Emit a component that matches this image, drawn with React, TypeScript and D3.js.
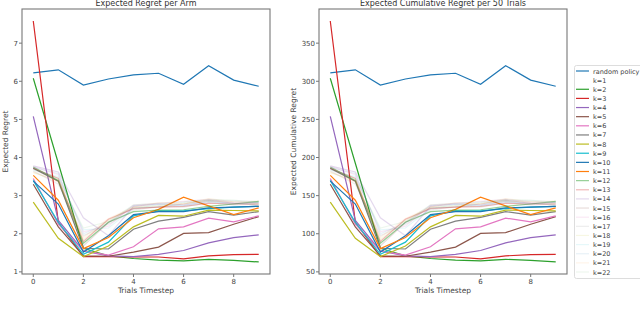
import React, { useEffect, useRef } from 'react';
import * as d3 from 'd3';

// trial timesteps on the x axis
const steps = [0, 1, 2, 3, 4, 5, 6, 7, 8, 9];

// expected regret per arm
const randomPolicy = [6.22, 6.30, 5.90, 6.06, 6.17, 6.21, 5.92, 6.41, 6.03, 5.87];
const k1: number[] = [];
const k2 = [6.08, 3.85, 1.62, 1.42, 1.35, 1.31, 1.29, 1.33, 1.30, 1.26];
const k3 = [7.58, 2.30, 1.40, 1.40, 1.39, 1.39, 1.34, 1.42, 1.45, 1.46];
const k4 = [5.08, 2.35, 1.55, 1.42, 1.40, 1.46, 1.56, 1.76, 1.90, 1.97];
const k5 = [3.30, 2.18, 1.42, 1.41, 1.52, 1.65, 2.01, 2.03, 2.25, 2.45];
const k6 = [3.45, 2.25, 1.55, 1.44, 1.66, 2.13, 2.18, 2.41, 2.31, 2.47];
const k7 = [3.72, 3.38, 1.62, 1.60, 2.12, 2.33, 2.43, 2.58, 2.49, 2.58];
const k8 = [2.83, 1.88, 1.40, 1.68, 2.18, 2.48, 2.46, 2.62, 2.61, 2.60];
const k9 = [3.40, 2.30, 1.46, 1.78, 2.47, 2.60, 2.60, 2.66, 2.70, 2.72];
const k10 = [3.38, 2.78, 1.52, 1.95, 2.50, 2.58, 2.58, 2.68, 2.70, 2.72];
const k11 = [3.53, 2.88, 1.61, 1.90, 2.42, 2.64, 2.96, 2.73, 2.50, 2.68];
const k12 = [3.75, 3.40, 1.75, 2.30, 2.58, 2.62, 2.63, 2.72, 2.78, 2.85];
const k13 = [3.72, 3.45, 1.80, 2.38, 2.66, 2.70, 2.72, 2.80, 2.78, 2.78];
const k14 = [3.78, 3.62, 2.42, 1.95, 2.72, 2.78, 2.75, 2.85, 2.80, 2.82];
const k15 = [3.70, 3.38, 1.68, 2.30, 2.68, 2.70, 2.78, 2.88, 2.80, 2.75];
const k16 = [3.76, 3.55, 2.05, 2.20, 2.75, 2.80, 2.85, 2.90, 2.82, 2.80];
const k17 = [3.65, 3.30, 1.95, 2.25, 2.62, 2.72, 2.70, 2.82, 2.76, 2.78];
const k18 = [3.60, 3.40, 1.85, 2.35, 2.70, 2.74, 2.80, 2.86, 2.84, 2.80];
const k19 = [3.68, 3.50, 2.10, 2.15, 2.66, 2.76, 2.74, 2.84, 2.78, 2.82];
const k20 = [3.74, 3.58, 2.00, 2.28, 2.74, 2.78, 2.82, 2.88, 2.86, 2.84];
const k21 = [3.62, 3.35, 1.90, 2.40, 2.70, 2.82, 2.78, 2.92, 2.84, 2.86];
const k22 = [3.70, 3.46, 2.15, 2.32, 2.76, 2.80, 2.84, 2.90, 2.88, 2.82];

const seriesNames = ['random policy', 'k=1', 'k=2', 'k=3', 'k=4', 'k=5', 'k=6', 'k=7', 'k=8', 'k=9', 'k=10',
  'k=11', 'k=12', 'k=13', 'k=14', 'k=15', 'k=16', 'k=17', 'k=18', 'k=19', 'k=20', 'k=21', 'k=22'];
const seriesValues = [randomPolicy, k1, k2, k3, k4, k5, k6, k7, k8, k9, k10,
  k11, k12, k13, k14, k15, k16, k17, k18, k19, k20, k21, k22];
// line opacity per series (k=1 is not visible, later k fade out)
const seriesAlpha = [1, 0, 1, 1, 1, 1, 1, 1, 1, 1, 1,
  1, 0.5, 0.33, 0.25, 0.2, 0.17, 0.14, 0.125, 0.11, 0.1, 0.09, 0.083];

const TRIALS = 50; // cumulative panel = per-arm regret over 50 trials

const xTicks = [0, 2, 4, 6, 8];
const leftYTicks = [1, 2, 3, 4, 5, 6, 7];
const rightYTicks = [50, 100, 150, 200, 250, 300, 350];

const FONT = 'DejaVu Sans, sans-serif';

const App = () => {
  const svgRef = useRef<SVGSVGElement | null>(null);

  useEffect(() => {
    const svg = d3.select(svgRef.current);
    svg.selectAll('*').remove();
    svg.append('rect').attr('width', 640).attr('height', 312).attr('fill', '#fff');

    const top = 9;
    const bottom = 274;

    const drawPanel = (left: number, right: number, title: string, ylabel: string,
      factor: number, yTicks: number[], ylabelX: number) => {
      const all = seriesValues.flat().map(v => v * factor);
      const [mn, mx] = d3.extent(all) as [number, number];
      const pad = (mx - mn) * 0.05;
      const x = d3.scaleLinear().domain([-0.45, 9.45]).range([left, right]);
      const y = d3.scaleLinear().domain([mn - pad, mx + pad]).range([bottom, top]);

      const g = svg.append('g');

      const line = d3.line<number>()
        .x((_, i) => x(steps[i]))
        .y(d => y(d * factor));

      seriesValues.forEach((vals, i) => {
        if (!vals.length) return;
        g.append('path')
          .datum(vals)
          .attr('fill', 'none')
          .attr('stroke', d3.schemeCategory10[i === 0 ? 0 : (i % 10)])
          .attr('stroke-opacity', seriesAlpha[i])
          .attr('stroke-width', 1.2)
          .attr('d', line);
      });

      // frame
      g.append('rect')
        .attr('x', left).attr('y', top)
        .attr('width', right - left).attr('height', bottom - top)
        .attr('fill', 'none').attr('stroke', '#777').attr('stroke-width', 1.1);

      xTicks.forEach(t => {
        g.append('line').attr('x1', x(t)).attr('x2', x(t))
          .attr('y1', bottom).attr('y2', bottom + 3).attr('stroke', '#777');
        g.append('text').attr('x', x(t)).attr('y', bottom + 10)
          .attr('text-anchor', 'middle').attr('font-size', 7).attr('font-family', FONT)
          .attr('fill', '#444').text(t);
      });
      yTicks.forEach(t => {
        g.append('line').attr('x1', left - 3).attr('x2', left)
          .attr('y1', y(t)).attr('y2', y(t)).attr('stroke', '#777');
        g.append('text').attr('x', left - 4).attr('y', y(t) + 2.5)
          .attr('text-anchor', 'end').attr('font-size', 7).attr('font-family', FONT)
          .attr('fill', '#444').text(t);
      });

      g.append('text').attr('x', (left + right) / 2).attr('y', 6)
        .attr('text-anchor', 'middle').attr('font-size', 8).attr('font-family', FONT)
        .attr('fill', '#333').text(title);
      g.append('text').attr('x', (left + right) / 2).attr('y', 293)
        .attr('text-anchor', 'middle').attr('font-size', 7.5).attr('font-family', FONT)
        .attr('fill', '#444').text('Trials Timestep');
      g.append('text')
        .attr('transform', `translate(${ylabelX},${(top + bottom) / 2}) rotate(-90)`)
        .attr('text-anchor', 'middle').attr('font-size', 7.5).attr('font-family', FONT)
        .attr('fill', '#444').text(ylabel);
    };

    drawPanel(22, 270, 'Expected Regret per Arm', 'Expected Regret', 1, leftYTicks, 8);
    drawPanel(319, 567, 'Expected Cumulative Regret per 50 Trials', 'Expected Cumulative Regret',
      TRIALS, rightYTicks, 296);

    // legend
    const lg = svg.append('g');
    lg.append('rect').attr('x', 574.5).attr('y', 65.5).attr('width', 70).attr('height', 213)
      .attr('rx', 2).attr('fill', '#fff').attr('stroke', '#ddd');
    const ly = d3.scalePoint<string>().domain(seriesNames).range([71, 272]);
    seriesNames.forEach((name, i) => {
      const yy = ly(name) as number;
      lg.append('line').attr('x1', 576).attr('x2', 589).attr('y1', yy).attr('y2', yy)
        .attr('stroke', d3.schemeCategory10[i === 0 ? 0 : (i % 10)])
        .attr('stroke-opacity', seriesAlpha[i]).attr('stroke-width', 1.2);
      lg.append('text').attr('x', 593).attr('y', yy + 2.5)
        .attr('font-size', 6.5).attr('font-family', FONT).attr('fill', '#444').text(name);
    });
  }, []);

  return (
    <svg ref={svgRef} width={640} height={312}
      style={{ position: 'absolute', left: 0, top: 0 }}></svg>
  );
};

export default App;
